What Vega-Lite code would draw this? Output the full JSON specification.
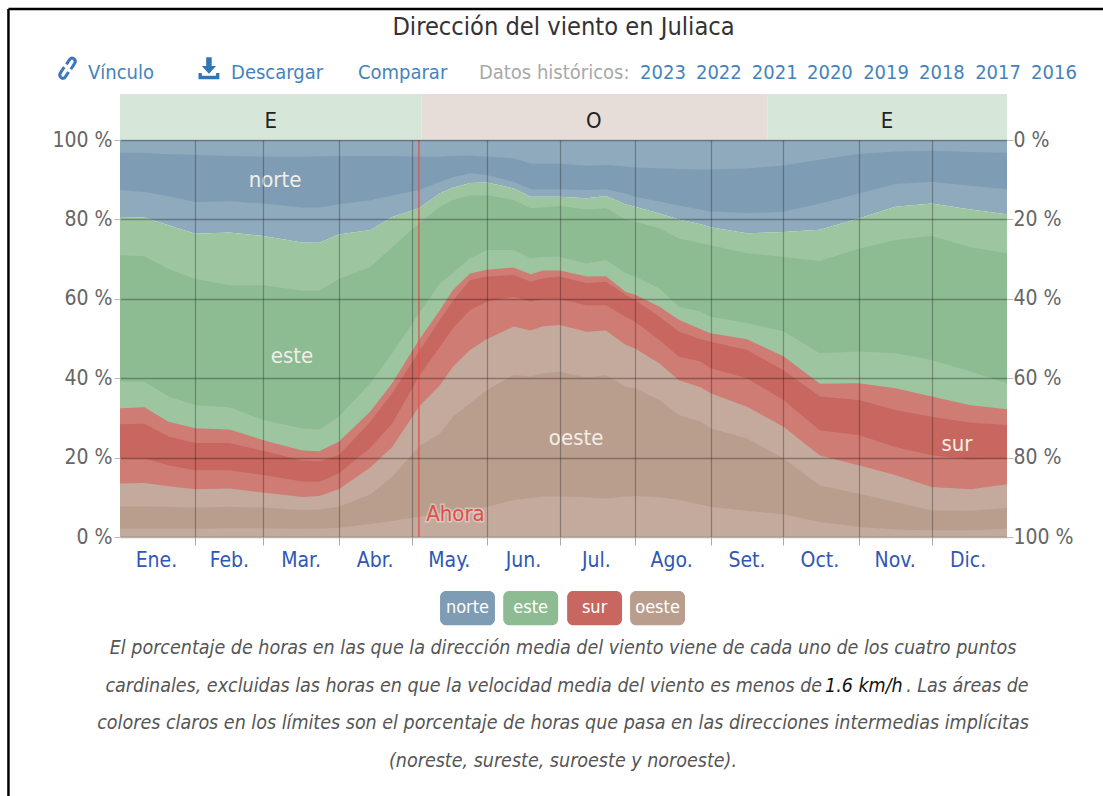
{"$schema":"https://vega.github.io/schema/vega-lite/v6.json","width":887,"height":397,"autosize":{"type":"none"},"padding":{"left":120,"top":140,"right":96,"bottom":259},"background":"white",
"title":{"text":"Dirección del viento en Juliaca","font":"DejaVu Sans Condensed, Roboto","fontSize":25.2,"fontWeight":"normal","color":"#333","anchor":"middle","offset":-32},
"config":{"font":"DejaVu Sans Condensed, Roboto","view":{"stroke":null},"text":{"font":"DejaVu Sans Condensed, Roboto"}},
"datasets":{"wind":[
{"d":0,"b1":2.1,"b2":7.7,"b3":13.5,"b4":19.8,"b5":28.4,"b6":32.4,"b7":39.1,"b8":71,"b9":80.6,"b10":87.4,"b11":96.8},
{"d":10,"b1":2.1,"b2":7.7,"b3":13.6,"b4":19.8,"b5":28.5,"b6":32.7,"b7":39.1,"b8":70.7,"b9":80.5,"b10":86.9,"b11":96.7},
{"d":20,"b1":2.1,"b2":7.6,"b3":12.8,"b4":18.1,"b5":25.3,"b6":29,"b7":35.4,"b8":67.5,"b9":78.5,"b10":85.8,"b11":96.4},
{"d":31,"b1":2.1,"b2":7.4,"b3":12,"b4":16.8,"b5":23.7,"b6":27.4,"b7":33.2,"b8":65,"b9":76.4,"b10":84.4,"b11":96.2},
{"d":45,"b1":2.2,"b2":7.6,"b3":12.2,"b4":16.8,"b5":23.7,"b6":27.1,"b7":32.7,"b8":63.4,"b9":76.7,"b10":84.6,"b11":96},
{"d":59,"b1":2.2,"b2":7.4,"b3":11.2,"b4":15.6,"b5":21.7,"b6":24.4,"b7":29.5,"b8":63.4,"b9":75.8,"b10":84,"b11":95.8},
{"d":75,"b1":2.1,"b2":6.8,"b3":10.1,"b4":14,"b5":19.3,"b6":21.8,"b7":27.3,"b8":62,"b9":74.2,"b10":83,"b11":95.8},
{"d":82,"b1":2.1,"b2":6.9,"b3":10.3,"b4":13.9,"b5":19.1,"b6":21.6,"b7":27.1,"b8":62,"b9":74.1,"b10":83,"b11":95.9},
{"d":90,"b1":2.3,"b2":7.6,"b3":12,"b4":16,"b5":20.6,"b6":24,"b7":30.3,"b8":65,"b9":76.2,"b10":83.8,"b11":96},
{"d":103,"b1":3.3,"b2":10.7,"b3":17.5,"b4":22.5,"b5":29,"b6":31.6,"b7":38.7,"b8":68,"b9":77.3,"b10":84.8,"b11":96},
{"d":112,"b1":4,"b2":15.2,"b3":22.7,"b4":28.6,"b5":36.2,"b6":38.7,"b7":46.3,"b8":73,"b9":80.6,"b10":86,"b11":96},
{"d":123,"b1":5.1,"b2":22.8,"b3":32.8,"b4":40.4,"b5":46.7,"b6":49.6,"b7":56.3,"b8":79,"b9":82.8,"b10":87.4,"b11":95.8},
{"d":131.7,"b1":6,"b2":26.1,"b3":38.3,"b4":47.9,"b5":54.7,"b6":57.2,"b7":63.9,"b8":83.2,"b9":86.6,"b10":89.5,"b11":95.8},
{"d":137,"b1":6.4,"b2":30.3,"b3":42.9,"b4":52.6,"b5":59.5,"b6":62.2,"b7":66.5,"b8":84.8,"b9":88,"b10":90.6,"b11":96},
{"d":144,"b1":6.9,"b2":33.7,"b3":47.1,"b4":57.2,"b5":64.7,"b6":66.4,"b7":70.2,"b8":86.1,"b9":89.2,"b10":91.6,"b11":96.1},
{"d":151,"b1":7.6,"b2":37,"b3":49.9,"b4":59.3,"b5":65.6,"b6":67.3,"b7":72.3,"b8":86.1,"b9":89.3,"b10":91.2,"b11":95.8},
{"d":162,"b1":9.3,"b2":40.8,"b3":53,"b4":60.5,"b5":66,"b6":67.9,"b7":72.3,"b8":84.9,"b9":87.8,"b10":89.5,"b11":95.4},
{"d":169,"b1":9.8,"b2":40.4,"b3":52,"b4":59.3,"b5":64.3,"b6":66.2,"b7":70.2,"b8":82.8,"b9":85.7,"b10":87.6,"b11":94.1},
{"d":174,"b1":10.2,"b2":41.2,"b3":53.1,"b4":59.9,"b5":65.2,"b6":67.1,"b7":70.5,"b8":83,"b9":85.7,"b10":87.6,"b11":94},
{"d":181,"b1":10.2,"b2":41.6,"b3":53.4,"b4":59.9,"b5":65.6,"b6":67.1,"b7":70.6,"b8":83.4,"b9":85.7,"b10":87.6,"b11":94},
{"d":192,"b1":10,"b2":40.2,"b3":51.7,"b4":58.4,"b5":63.9,"b6":65.6,"b7":68.9,"b8":82.5,"b9":85.3,"b10":87.4,"b11":93.5},
{"d":200,"b1":9.7,"b2":40.8,"b3":52,"b4":58.4,"b5":64.3,"b6":65.7,"b7":69.8,"b8":82.8,"b9":85.9,"b10":87.6,"b11":93.7},
{"d":208,"b1":10.2,"b2":37.9,"b3":48.4,"b4":55.5,"b5":61,"b6":61.8,"b7":66.5,"b8":80,"b9":83.8,"b10":86.5,"b11":93.3},
{"d":212,"b1":10.3,"b2":37.4,"b3":47.5,"b4":54.2,"b5":59.7,"b6":61,"b7":65.6,"b8":79.4,"b9":83.2,"b10":85.7,"b11":93.1},
{"d":222,"b1":10,"b2":34.5,"b3":43.7,"b4":49.6,"b5":55.5,"b6":58,"b7":62.6,"b8":77.7,"b9":81.5,"b10":84.5,"b11":92.9},
{"d":230,"b1":9.4,"b2":30.7,"b3":39.5,"b4":45.4,"b5":51.7,"b6":54.7,"b7":58,"b8":75.2,"b9":80,"b10":83.5,"b11":92.7},
{"d":239,"b1":8.1,"b2":29,"b3":37.7,"b4":44.2,"b5":49.8,"b6":52.3,"b7":56.8,"b8":74,"b9":78.8,"b10":82.5,"b11":92.6},
{"d":243,"b1":7.6,"b2":27.4,"b3":36.2,"b4":42.5,"b5":49.2,"b6":51.3,"b7":55.5,"b8":73.5,"b9":78,"b10":82,"b11":92.6},
{"d":258,"b1":6.6,"b2":24.8,"b3":32.8,"b4":40,"b5":47.1,"b6":49.8,"b7":53.9,"b8":71.5,"b9":76.5,"b10":81.6,"b11":92.8},
{"d":273,"b1":5.7,"b2":19.8,"b3":27.8,"b4":34.5,"b5":42,"b6":45.5,"b7":51.8,"b8":70.5,"b9":76.8,"b10":81.9,"b11":93.6},
{"d":288,"b1":3.8,"b2":13,"b3":20.5,"b4":26.9,"b5":35.4,"b6":38.6,"b7":46.3,"b8":69.5,"b9":77.4,"b10":84,"b11":95},
{"d":304,"b1":2.5,"b2":10.9,"b3":18.1,"b4":25.7,"b5":34.5,"b6":38.7,"b7":46.7,"b8":72.6,"b9":80.2,"b10":86.5,"b11":96.5},
{"d":319,"b1":1.9,"b2":8.8,"b3":15.6,"b4":22.7,"b5":32,"b6":37.5,"b7":46.3,"b8":74.8,"b9":83.2,"b10":88.9,"b11":97.1},
{"d":334,"b1":1.7,"b2":6.7,"b3":12.6,"b4":20.6,"b5":30.3,"b6":35.4,"b7":44.6,"b8":75.8,"b9":84,"b10":89.5,"b11":97.3},
{"d":350,"b1":1.7,"b2":6.6,"b3":12,"b4":19.5,"b5":28.8,"b6":33.2,"b7":41.7,"b8":73,"b9":82.5,"b10":88.5,"b11":97},
{"d":365,"b1":2.1,"b2":7.3,"b3":13.3,"b4":19.8,"b5":28.2,"b6":32.2,"b7":38.7,"b8":71.4,"b9":81.3,"b10":87.6,"b11":96.8}
],
"chips":[{"s":"norte","d":131.7,"d2":154.3,"c":143,"p":-13.6,"p2":-22.2,"m":-18},{"s":"este","d":157.7,"d2":180.3,"c":169,"p":-13.6,"p2":-22.2,"m":-18},{"s":"sur","d":184,"d2":206.6,"c":195.3,"p":-13.6,"p2":-22.2,"m":-18},{"s":"oeste","d":209.9,"d2":232.5,"c":221.2,"p":-13.6,"p2":-22.2,"m":-18}],
"bands":[{"t":"E","d":0,"d2":124,"c":62,"k":"E","p":100,"p2":111.6,"m":104.9},{"t":"O","d":124,"d2":266.3,"c":195,"k":"O","p":100,"p2":111.6,"m":104.9},{"t":"E","d":266.3,"d2":365,"c":315.6,"k":"E","p":100,"p2":111.6,"m":104.9}]},
"layer":[
{"data":{"name":"wind"},"mark":{"type":"area","color":"#8fa9bd"},"encoding":{"x":{"field":"d","type":"quantitative","scale":{"domain":[0,365],"nice":false,"zero":false},"title":null,"axis":{"values":[31,59,90,120,151,181,212,243,273,304,334],"labels":false,"domain":false,"grid":true,"gridColor":"#000","gridOpacity":0.28,"gridWidth":1.2,"tickColor":"#aaa","tickSize":8,"tickWidth":1,"zindex":1}},"y":{"field":"b9","type":"quantitative","scale":{"domain":[0,100],"nice":false},"title":null,"axis":{"orient":"left","values":[0,20,40,60,80,100],"labelExpr":"datum.value + ' %'","labelFont":"DejaVu Sans Condensed, Roboto","labelFontSize":21,"labelColor":"#666","labelPadding":2,"domain":false,"grid":true,"gridColor":"#000","gridOpacity":0.3,"gridWidth":1.5,"tickColor":"#bbb","tickSize":6,"zindex":1}},"y2":{"datum":100}}},
{"data":{"name":"wind"},"mark":{"type":"area","color":"#7e9cb3"},"encoding":{"x":{"field":"d","type":"quantitative"},"y":{"field":"b11","type":"quantitative","axis":null},"y2":{"field":"b10"}}},
{"data":{"name":"wind"},"mark":{"type":"area","color":"#9dc5a0"},"encoding":{"x":{"field":"d","type":"quantitative"},"y":{"field":"b9","type":"quantitative","axis":null},"y2":{"datum":0}}},
{"data":{"name":"wind"},"mark":{"type":"area","color":"#8dbc92"},"encoding":{"x":{"field":"d","type":"quantitative"},"y":{"field":"b8","type":"quantitative","axis":null},"y2":{"field":"b7"}}},
{"data":{"name":"wind"},"mark":{"type":"area","color":"#cf7c75"},"encoding":{"x":{"field":"d","type":"quantitative"},"y":{"field":"b6","type":"quantitative","axis":null},"y2":{"datum":0}}},
{"data":{"name":"wind"},"mark":{"type":"area","color":"#c7675f"},"encoding":{"x":{"field":"d","type":"quantitative"},"y":{"field":"b5","type":"quantitative","axis":null},"y2":{"field":"b4"}}},
{"data":{"name":"wind"},"mark":{"type":"area","color":"#c3aa9c"},"encoding":{"x":{"field":"d","type":"quantitative"},"y":{"field":"b3","type":"quantitative","axis":null},"y2":{"datum":0}}},
{"data":{"name":"wind"},"mark":{"type":"area","color":"#b99e8e"},"encoding":{"x":{"field":"d","type":"quantitative"},"y":{"field":"b2","type":"quantitative","axis":null},"y2":{"field":"b1"}}},
{"data":{"name":"bands"},"mark":{"type":"rect"},"encoding":{"x":{"field":"d","type":"quantitative"},"x2":{"field":"d2"},"y":{"field":"p","type":"quantitative","axis":null},"y2":{"field":"p2"},"color":{"field":"k","type":"nominal","legend":null,"scale":{"domain":["E","O"],"range":["#d6e7d9","#e6dcd8"]}}}},
{"data":{"name":"bands"},"mark":{"type":"text","fontSize":22,"color":"#222"},"encoding":{"x":{"field":"c","type":"quantitative"},"y":{"field":"m","type":"quantitative","axis":null},"text":{"field":"t"}}},
{"data":{"values":[{"d":123}]},"mark":{"type":"rule","color":"#e0504a","opacity":0.85,"strokeWidth":1.5},"encoding":{"x":{"field":"d","type":"quantitative"}}},
{"data":{"values":[{"t":"norte","d":63.8,"p":89.9},{"t":"este","d":70.8,"p":45.6},{"t":"oeste","d":187.7,"p":24.9},{"t":"sur","d":344.4,"p":23.4}]},"mark":{"type":"text","fontSize":22,"color":"#f1eee8"},"encoding":{"x":{"field":"d","type":"quantitative"},"y":{"field":"p","type":"quantitative","axis":null},"text":{"field":"t"}}},
{"data":{"values":[{"t":"Ahora","d":126,"p":5.8}]},"mark":{"type":"text","fontSize":22,"align":"left","color":"#ffffff","opacity":0.35,"stroke":"#ffffff","strokeWidth":3},"encoding":{"x":{"field":"d","type":"quantitative"},"y":{"field":"p","type":"quantitative","axis":null},"text":{"field":"t"}}},
{"data":{"values":[{"t":"Ahora","d":126,"p":5.8}]},"mark":{"type":"text","fontSize":22,"align":"left","color":"#e0504a"},"encoding":{"x":{"field":"d","type":"quantitative"},"y":{"field":"p","type":"quantitative","axis":null},"text":{"field":"t"}}},
{"data":{"values":[{"t":"Ene.","d":15,"p":-6},{"t":"Feb.","d":45,"p":-6},{"t":"Mar.","d":74.5,"p":-6},{"t":"Abr.","d":105,"p":-6},{"t":"May.","d":135.5,"p":-6},{"t":"Jun.","d":166,"p":-6},{"t":"Jul.","d":196,"p":-6},{"t":"Ago.","d":227,"p":-6},{"t":"Set.","d":258,"p":-6},{"t":"Oct.","d":288,"p":-6},{"t":"Nov.","d":319,"p":-6},{"t":"Dic.","d":349,"p":-6}]},"mark":{"type":"text","fontSize":21,"color":"#2f57b5"},"encoding":{"x":{"field":"d","type":"quantitative"},"y":{"field":"p","type":"quantitative","axis":null},"text":{"field":"t"}}},
{"data":{"name":"chips"},"mark":{"type":"rect","cornerRadius":6},"encoding":{"x":{"field":"d","type":"quantitative"},"x2":{"field":"d2"},"y":{"field":"p","type":"quantitative","axis":null},"y2":{"field":"p2"},"fill":{"field":"s","type":"nominal","legend":null,"scale":{"domain":["norte","este","sur","oeste"],"range":["#7e9cb3","#8dbc92","#c7675f","#b99e8e"]}}}},
{"data":{"name":"chips"},"mark":{"type":"text","fontSize":18,"color":"#ffffff"},"encoding":{"x":{"field":"c","type":"quantitative"},"y":{"field":"m","type":"quantitative","axis":null},"text":{"field":"s"}}},
{"data":{"values":[{"t":"Vínculo","d":-13.2,"p":117},{"t":"Descargar","d":45.7,"p":117},{"t":"Comparar","d":97.9,"p":117},{"t":"2023","d":214,"p":117},{"t":"2022","d":237,"p":117},{"t":"2021","d":260,"p":117},{"t":"2020","d":282.7,"p":117},{"t":"2019","d":305.8,"p":117},{"t":"2018","d":328.8,"p":117},{"t":"2017","d":351.9,"p":117},{"t":"2016","d":374.9,"p":117}]},"mark":{"type":"text","fontSize":20,"align":"left","color":"#4583bd"},"encoding":{"x":{"field":"d","type":"quantitative"},"y":{"field":"p","type":"quantitative","axis":null},"text":{"field":"t"}}},
{"data":{"values":[{"t":"Datos históricos:","d":147.7,"p":117}]},"mark":{"type":"text","fontSize":20,"align":"left","color":"#a8a8a8"},"encoding":{"x":{"field":"d","type":"quantitative"},"y":{"field":"p","type":"quantitative","axis":null},"text":{"field":"t"}}},
{"data":{"values":[{"d":-21.6,"p":118.1}]},"mark":{"type":"point","filled":false,"stroke":"#3a78b8","strokeWidth":3,"opacity":1,"size":484,"shape":"M-0.1,-0.35 L0.2,-0.8 Q0.4,-1.05 0.62,-0.82 Q0.8,-0.62 0.62,-0.38 L0.3,0.1 M0.1,0.35 L-0.2,0.8 Q-0.4,1.05 -0.62,0.82 Q-0.8,0.62 -0.62,0.38 L-0.3,-0.1"},"encoding":{"x":{"field":"d","type":"quantitative"},"y":{"field":"p","type":"quantitative","axis":null}}},
{"data":{"values":[{"d":36.6,"p":118.1}]},"mark":{"type":"point","filled":true,"color":"#2f75b8","opacity":1,"size":484,"shape":"M-0.25,-1 H0.25 V-0.2 H0.65 L0,0.5 L-0.65,-0.2 H-0.25 Z M-0.95,0.45 H-0.65 V0.7 H0.65 V0.45 H0.95 V1 H-0.95 Z"},"encoding":{"x":{"field":"d","type":"quantitative"},"y":{"field":"p","type":"quantitative","axis":null}}},
{"data":{"values":[{"t":"El porcentaje de horas en las que la dirección media del viento viene de cada uno de los cuatro puntos","d":182.3,"p":-28},{"t":"colores claros en los límites son el porcentaje de horas que pasa en las direcciones intermedias implícitas","d":182.3,"p":-46.9},{"t":"(noreste, sureste, suroeste y noroeste).","d":182.3,"p":-56.5}]},"mark":{"type":"text","fontSize":19.5,"fontStyle":"italic","color":"#555"},"encoding":{"x":{"field":"d","type":"quantitative"},"y":{"field":"p","type":"quantitative","axis":null},"text":{"field":"t"}}},
{"data":{"values":[{"t":"cardinales, excluidas las horas en que la velocidad media del viento es menos de","d":288.9,"p":-37.6}]},"mark":{"type":"text","fontSize":19.5,"fontStyle":"italic","align":"right","color":"#555"},"encoding":{"x":{"field":"d","type":"quantitative"},"y":{"field":"p","type":"quantitative","axis":null},"text":{"field":"t"}}},
{"data":{"values":[{"t":"1.6 km/h","d":290.1,"p":-37.6}]},"mark":{"type":"text","fontSize":19.5,"fontStyle":"italic","align":"left","color":"#111"},"encoding":{"x":{"field":"d","type":"quantitative"},"y":{"field":"p","type":"quantitative","axis":null},"text":{"field":"t"}}},
{"data":{"values":[{"t":". Las áreas de","d":323.5,"p":-37.6}]},"mark":{"type":"text","fontSize":19.5,"fontStyle":"italic","align":"left","color":"#555"},"encoding":{"x":{"field":"d","type":"quantitative"},"y":{"field":"p","type":"quantitative","axis":null},"text":{"field":"t"}}},
{"data":{"values":[{"d":-45.9,"p":133,"p2":-65.5}]},"mark":{"type":"rule","color":"#000","strokeWidth":2.5},"encoding":{"x":{"field":"d","type":"quantitative"},"y":{"field":"p","type":"quantitative","axis":null},"y2":{"field":"p2"}}},
{"data":{"values":[{"d":-45.9,"d2":404.5,"p":133}]},"mark":{"type":"rule","color":"#000","strokeWidth":2.5},"encoding":{"x":{"field":"d","type":"quantitative"},"x2":{"field":"d2"},"y":{"field":"p","type":"quantitative","axis":null}}},
{"data":{"values":[{"p":0},{"p":100}]},"mark":{"type":"point","opacity":0},"encoding":{"y":{"field":"p","type":"quantitative","axis":{"orient":"right","values":[0,20,40,60,80,100],"labelExpr":"(100 - datum.value) + ' %'","labelFont":"DejaVu Sans Condensed, Roboto","labelFontSize":21,"labelColor":"#666","labelPadding":0,"domain":false,"grid":false,"tickColor":"#bbb","tickSize":6,"title":null}}}}
],
"resolve":{"axis":{"y":"independent"}}}
